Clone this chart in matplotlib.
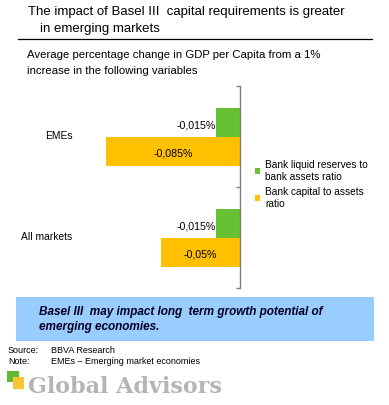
import matplotlib
matplotlib.use("Agg")
import matplotlib.pyplot as plt
from matplotlib.patches import Rectangle

plt.rcParams['font.family'] = ['Liberation Sans', 'DejaVu Sans']

categories = ["All markets", "EMEs"]
series_names = ["Bank liquid reserves to\nbank assets ratio", "Bank capital to assets\nratio"]
liquid_values = [-0.015, -0.015]
capital_values = [-0.05, -0.085]
liquid_labels = ["-0,015%", "-0,015%"]
capital_labels = ["-0,05%", "-0,085%"]

GREEN = "#66C233"
ORANGE = "#FFC000"

W, H = 389, 405
fig = plt.figure(figsize=(W / 100, H / 100), dpi=100)

def fx(px):
    return px / W

def fy(py):
    return 1 - py / H

# Title
fig.text(fx(28), fy(12), "The impact of Basel III  capital requirements is greater",
         fontsize=9.5, va="center", ha="left")
fig.text(fx(40), fy(29), "in emerging markets", fontsize=9.5, va="center", ha="left")
fig.add_artist(plt.Line2D([fx(18), fx(372)], [fy(39.3), fy(39.3)], color="black", lw=0.9))

# Subtitle
fig.text(fx(27), fy(55), "Average percentage change in GDP per Capita from a 1%",
         fontsize=8.2, va="center", ha="left")
fig.text(fx(27), fy(70.5), "increase in the following variables", fontsize=8.2, va="center", ha="left")

# Axes: x=0 at pixel 240, 1580 px per unit
left_px, right_px = 20, 240
top_px, bot_px = 86.3, 288.3
scale = 1580.0
ax = fig.add_axes([fx(left_px), fy(bot_px), fx(right_px - left_px), (bot_px - top_px) / H])
ax.set_xlim(-(right_px - left_px) / scale, 0)
ax.set_ylim(-0.5, 1.5)

bh = 29 / 101
ypos = [0, 1]
b1 = ax.barh([y + bh / 2 for y in ypos], liquid_values, height=bh, color=GREEN, label=series_names[0])
b2 = ax.barh([y - bh / 2 for y in ypos], capital_values, height=bh, color=ORANGE, label=series_names[1])

for i, y in enumerate(ypos):
    ax.text(liquid_values[i] - 0.0005, y + bh / 2 - 0.03, liquid_labels[i], ha="right", va="center", fontsize=7.7)
    ax.text(capital_values[i] / 2, y - bh / 2 - 0.02, capital_labels[i], ha="center", va="center", fontsize=7.7)

for s in ["left", "top", "bottom"]:
    ax.spines[s].set_visible(False)
ax.spines["right"].set_color("#808080")
ax.spines["right"].set_linewidth(1.0)
ax.set_xticks([])
ax.yaxis.tick_right()
ax.set_yticks([-0.5, 0.5, 1.5])
ax.set_yticklabels([])
ax.tick_params(axis="y", direction="in", length=3, color="#808080", width=1.0)
ax.patch.set_alpha(0)

# Category labels
fig.text(fx(72.5), fy(135.7), categories[1], ha="right", va="center", fontsize=7.4)
fig.text(fx(72.5), fy(237.3), categories[0], ha="right", va="center", fontsize=7.4)

# Legend (manual placement)
leg = fig.legend(handles=[b1, b2], labels=series_names, loc="upper left",
                 bbox_to_anchor=(fx(254.5), fy(160)), frameon=False, fontsize=7.3,
                 handlelength=0.55, handleheight=0.55, handletextpad=0.5,
                 labelspacing=0.55, borderaxespad=0, borderpad=0)

# Blue box
fig.add_artist(Rectangle((fx(16), fy(341)), fx(374 - 16), (341 - 297) / H,
                         transform=fig.transFigure, facecolor="#99CCFF", edgecolor="none"))
fig.text(fx(39), fy(312.3), "Basel III  may impact long  term growth potential of",
         fontsize=8.5, fontweight="bold", fontstyle="italic", va="center", ha="left", color="#000022")
fig.text(fx(39), fy(326.7), "emerging economies.",
         fontsize=8.5, fontweight="bold", fontstyle="italic", va="center", ha="left", color="#000022")

# Source / Note
fig.text(fx(8), fy(350.7), "Source:", fontsize=6.5, va="center", ha="left")
fig.text(fx(51), fy(350.7), "BBVA Research", fontsize=6.5, va="center", ha="left")
fig.text(fx(8), fy(361), "Note:", fontsize=6.5, va="center", ha="left")
fig.text(fx(51), fy(361), "EMEs \u2013 Emerging market economies", fontsize=6.5, va="center", ha="left")

# Logo
fig.add_artist(Rectangle((fx(7), fy(381.7)), fx(12), 10.7 / H, transform=fig.transFigure,
                         facecolor="#5EBB2E", edgecolor="none"))
fig.add_artist(Rectangle((fx(13), fy(389)), fx(11), 12 / H, transform=fig.transFigure,
                         facecolor="#F8C630", edgecolor="none"))
fig.text(fx(28), fy(393), "Global Advisors", fontsize=16, fontweight="bold",
         family="DejaVu Serif", color="#B5B5B5", va="baseline", ha="left")

fig.savefig("out.png", dpi=100)
